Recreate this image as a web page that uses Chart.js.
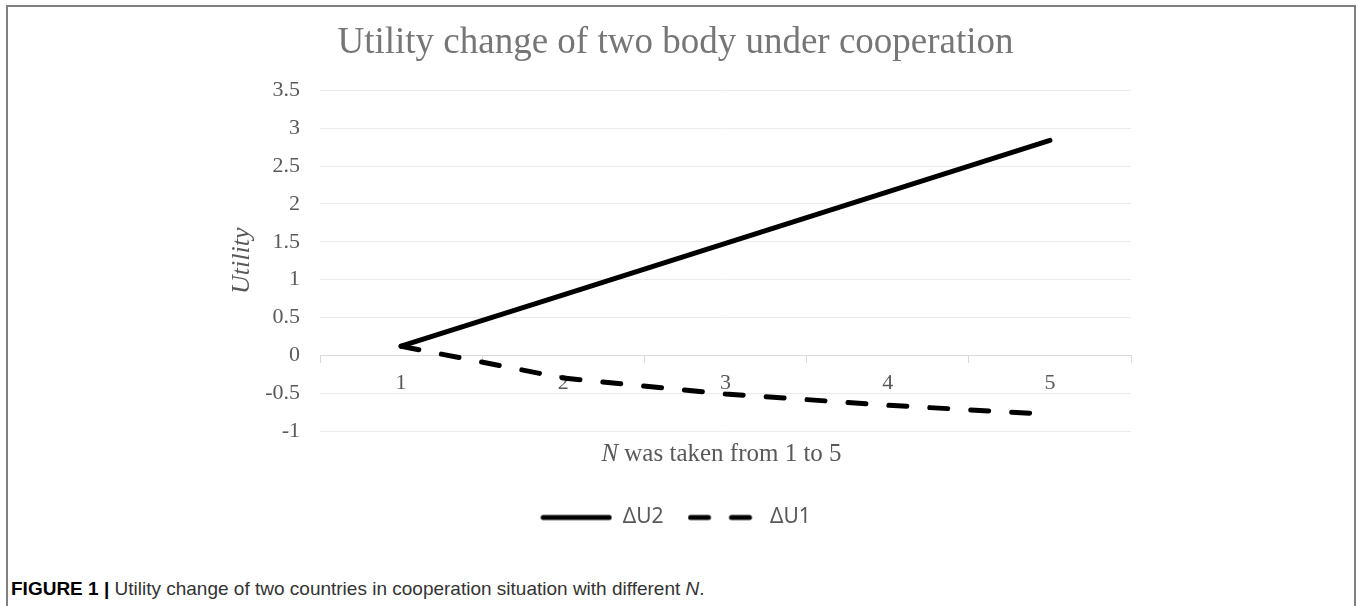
<!DOCTYPE html>
<html lang="en">
<head>
    <meta charset="UTF-8">
    <title>Utility change of two body under cooperation</title>
    <script src="https://cdn.jsdelivr.net/npm/chart.js"></script>
    <style>
        body { margin: 0; width: 1357px; height: 606px; overflow: hidden; background: #fff; }
        #frame {
            position: absolute; left: 6px; top: 5px; width: 1346px; height: 700px;
            border: 2px solid #808080; border-bottom: none;
        }
        #utilChart { position: absolute; left: 0; top: 0; }
        #caption {
            position: absolute; left: 3px; top: 571px;
            font-family: "Liberation Sans", Arial, sans-serif;
            font-size: 19px; line-height: 22px; color: #333;
        }
        #caption b { color: #000; }
    </style>
</head>
<body>
<div id="frame">
    <canvas id="utilChart" width="1346" height="560"></canvas>
    <div id="caption"><b>FIGURE 1 |</b> Utility change of two countries in cooperation situation with different <i>N</i>.</div>
</div>
<script>
// data
var nValues = ['1', '2', '3', '4', '5'];
var deltaU2 = [0.12, 0.80, 1.48, 2.16, 2.84];
var deltaU1 = [0.12, -0.30, -0.51, -0.66, -0.78];
var yTicks = [-1, -0.5, 0, 0.5, 1, 1.5, 2, 2.5, 3, 3.5];

var serif = '"Liberation Serif", "Times New Roman", serif';

// small line images used as legend symbols (solid / dashed)
function legendLine(dash) {
    var c = document.createElement('canvas');
    c.width = 72; c.height = 8;
    var g = c.getContext('2d');
    g.strokeStyle = '#000';
    g.lineWidth = 5;
    g.lineCap = 'round';
    g.setLineDash(dash);
    g.beginPath();
    g.moveTo(3, 4);
    g.lineTo(69, 4);
    g.stroke();
    return c;
}

// axis titles drawn by hand so the N can be italic
var axisTitles = {
    id: 'axisTitles',
    afterDraw: function(chart) {
        var ctx = chart.ctx, area = chart.chartArea;
        ctx.save();
        ctx.fillStyle = '#595959';
        ctx.textAlign = 'center';
        ctx.textBaseline = 'middle';
        // y title
        ctx.save();
        ctx.translate(area.left - 78, (area.top + area.bottom) / 2);
        ctx.rotate(-Math.PI / 2);
        ctx.font = 'italic 26px ' + serif;
        ctx.fillText('Utility', 0, 0);
        ctx.restore();
        // x title
        var first = 'N', rest = ' was taken from 1 to 5';
        ctx.textAlign = 'left';
        ctx.textBaseline = 'alphabetic';
        ctx.font = 'italic 25px ' + serif;
        var w1 = ctx.measureText(first).width;
        ctx.font = '25px ' + serif;
        var w2 = ctx.measureText(rest).width;
        var x0 = (area.left + area.right) / 2 - 4 - (w1 + w2) / 2;
        var yb = area.bottom + 30;
        ctx.font = 'italic 25px ' + serif;
        ctx.fillText(first, x0, yb);
        ctx.font = '25px ' + serif;
        ctx.fillText(rest, x0 + w1, yb);
        ctx.restore();
    }
};

var ctx = document.getElementById('utilChart').getContext('2d');
var utilChart = new Chart(ctx, {
    type: 'line',
    data: {
        labels: nValues,
        datasets: [{
            label: '\u0394U2',
            data: deltaU2,
            borderColor: '#000',
            backgroundColor: '#000',
            borderWidth: 5,
            borderCapStyle: 'round',
            borderJoinStyle: 'round',
            pointRadius: 0,
            pointStyle: legendLine([]),
            tension: 0
        }, {
            label: '\u0394U1',
            data: deltaU1,
            borderColor: '#000',
            backgroundColor: '#000',
            borderWidth: 5,
            borderDash: [18, 23],
            borderCapStyle: 'round',
            borderJoinStyle: 'round',
            pointRadius: 0,
            pointStyle: legendLine([18, 23]),
            tension: 0
        }]
    },
    options: {
        responsive: false,
        animation: false,
        layout: { padding: { left: 212, right: 223, top: 0, bottom: 29 } },
        plugins: {
            title: {
                display: true,
                text: 'Utility change of two body under cooperation',
                color: '#767676',
                font: { family: serif, size: 37, weight: 'normal' },
                padding: { top: 14, bottom: 25 }
            },
            legend: {
                position: 'bottom',
                title: { display: true, text: '', font: { size: 10 }, padding: { top: 40, bottom: 0 } },
                labels: {
                    usePointStyle: true,
                    pointStyleWidth: 72,
                    padding: 24,
                    color: '#595959',
                    font: { family: '"Noto Sans", "DejaVu Sans", sans-serif', size: 21 }
                }
            },
            tooltip: { enabled: false }
        },
        scales: {
            x: {
                position: { y: 0 },
                offset: true,
                grid: {
                    offset: true,
                    drawOnChartArea: false,
                    drawTicks: true,
                    tickLength: 7,
                    color: '#d9d9d9'
                },
                border: { display: true, color: '#d9d9d9', width: 1 },
                ticks: {
                    color: '#595959',
                    padding: 8,
                    font: { family: serif, size: 22 }
                }
            },
            y: {
                min: -1,
                max: 3.5,
                afterFit: function(scale) { scale.width = 100; },
                afterBuildTicks: function(scale) {
                    scale.ticks = yTicks.map(function(v) { return { value: v }; });
                },
                grid: { color: '#ebebeb', drawTicks: false },
                border: { display: false },
                ticks: {
                    color: '#595959',
                    padding: 20,
                    font: { family: serif, size: 22 },
                    callback: function(value) { return String(value); }
                }
            }
        }
    },
    plugins: [axisTitles]
});
</script>
</body>
</html>
